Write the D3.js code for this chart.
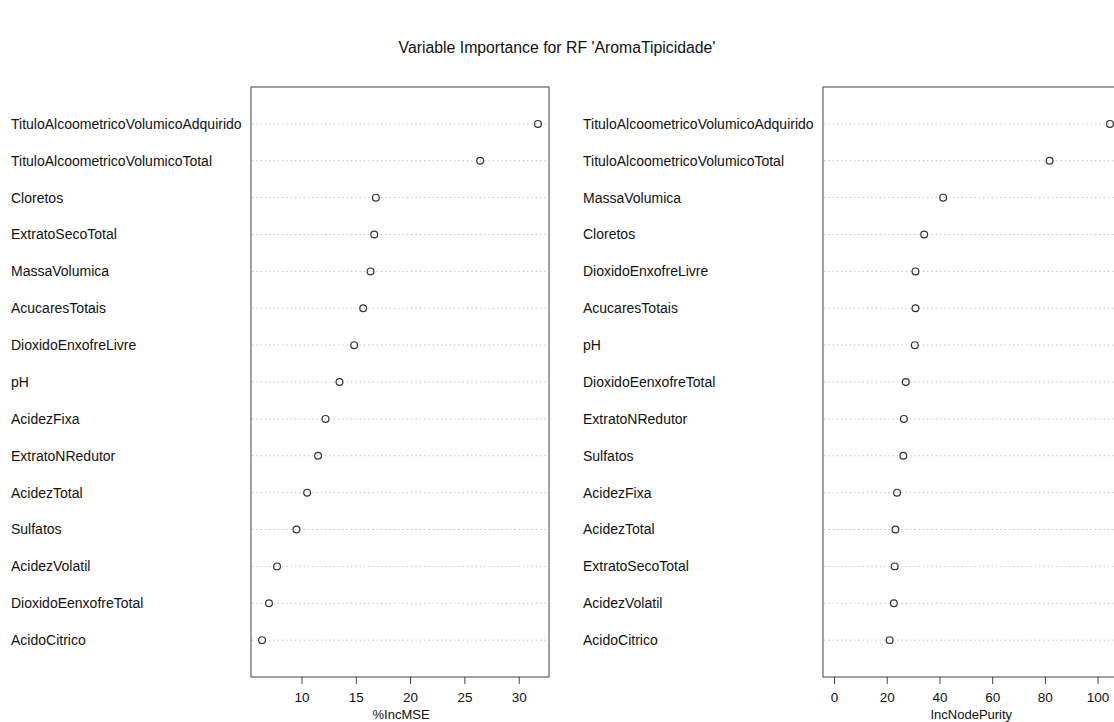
<!DOCTYPE html>
<html>
<head>
<meta charset="utf-8">
<script src="https://cdn.jsdelivr.net/npm/d3@7"></script>
<style>
  html, body { margin: 0; padding: 0; background: #fff; }
  svg { display: block; font-family: "Liberation Sans", Arial, Helvetica, sans-serif; }
</style>
</head>
<body>
<svg id="chart" width="1114" height="722"></svg>
<script>
// Importance measures, listed top row first (each panel sorted by its own measure)
const mseVars = ["TituloAlcoometricoVolumicoAdquirido", "TituloAlcoometricoVolumicoTotal", "Cloretos",
  "ExtratoSecoTotal", "MassaVolumica", "AcucaresTotais", "DioxidoEnxofreLivre", "pH", "AcidezFixa",
  "ExtratoNRedutor", "AcidezTotal", "Sulfatos", "AcidezVolatil", "DioxidoEenxofreTotal", "AcidoCitrico"];
const mseValues = [31.77, 26.45, 16.85, 16.70, 16.36, 15.68, 14.85, 13.50, 12.21, 11.53, 10.52, 9.54, 7.75, 7.01, 6.37];

const purityVars = ["TituloAlcoometricoVolumicoAdquirido", "TituloAlcoometricoVolumicoTotal", "MassaVolumica",
  "Cloretos", "DioxidoEnxofreLivre", "AcucaresTotais", "pH", "DioxidoEenxofreTotal", "ExtratoNRedutor",
  "Sulfatos", "AcidezFixa", "AcidezTotal", "ExtratoSecoTotal", "AcidezVolatil", "AcidoCitrico"];
const purityValues = [104.7, 81.8, 41.4, 34.2, 30.9, 30.9, 30.65, 27.2, 26.5, 26.3, 23.9, 23.3, 23.0, 22.7, 21.1];

const mseTicks = [10, 15, 20, 25, 30];
const purityTicks = [0, 20, 40, 60, 80, 100];

const titleText = "Variable Importance for RF 'AromaTipicidade'";

const svg = d3.select("#chart");

svg.append("text")
  .attr("x", 557).attr("y", 53)
  .attr("text-anchor", "middle")
  .attr("font-size", 15.8)
  .attr("fill", "#111")
  .text(titleText);

function dotPanel(cfg) {
  const n = cfg.vars.length;
  const top = 87, bottom = 677;
  const x = d3.scaleLinear().domain(cfg.xlim).range([cfg.left, cfg.right]);
  const y = d3.scaleLinear().domain([0, n + 1]).range([bottom, top]);
  const rows = cfg.vars.map((v, i) => ({ name: v, value: cfg.values[i], pos: n - i }));

  const g = svg.append("g");

  // dotted guide lines
  g.selectAll("line.guide").data(rows).join("line")
    .attr("class", "guide")
    .attr("x1", cfg.left + 1).attr("x2", cfg.right - 1)
    .attr("y1", d => y(d.pos)).attr("y2", d => y(d.pos))
    .attr("stroke", "#bdbdbd").attr("stroke-width", 1)
    .attr("stroke-dasharray", "1.3,3");

  // variable names
  g.selectAll("text.lab").data(rows).join("text")
    .attr("class", "lab")
    .attr("x", cfg.labelX).attr("y", d => y(d.pos))
    .attr("dy", "0.35em")
    .attr("font-size", 14)
    .attr("fill", "#111")
    .text(d => d.name);

  // points
  g.selectAll("circle").data(rows).join("circle")
    .attr("cx", d => x(d.value)).attr("cy", d => y(d.pos))
    .attr("r", 3.4)
    .attr("fill", "none").attr("stroke", "#333").attr("stroke-width", 1.2);

  // frame
  g.append("rect")
    .attr("x", cfg.left).attr("y", top)
    .attr("width", cfg.right - cfg.left).attr("height", bottom - top)
    .attr("fill", "none").attr("stroke", "#444").attr("stroke-width", 1);

  // bottom axis
  const axis = d3.axisBottom(x).tickValues(cfg.ticks).tickSize(7).tickPadding(8).tickFormat(d3.format("d"));
  const ag = g.append("g").attr("transform", `translate(0,${bottom})`).call(axis);
  ag.select(".domain").remove();
  ag.selectAll(".tick line").attr("stroke", "#444");
  ag.selectAll(".tick text").attr("font-size", 13.5).attr("fill", "#111")
    .attr("font-family", "Liberation Sans, Arial, sans-serif");

  g.append("text")
    .attr("x", (x(cfg.ticks[0]) + x(cfg.ticks[cfg.ticks.length - 1])) / 2 + cfg.titleShift)
    .attr("y", 719)
    .attr("text-anchor", "middle")
    .attr("font-size", 13)
    .attr("fill", "#111")
    .text(cfg.axisTitle);
}

// Left panel: %IncMSE, range padded by 4% on each side
(function () {
  const lo = d3.min(mseValues), hi = d3.max(mseValues), pad = (hi - lo) * 0.04;
  dotPanel({
    vars: mseVars, values: mseValues, ticks: mseTicks,
    xlim: [lo - pad, hi + pad], left: 251, right: 549, labelX: 11,
    axisTitle: "%IncMSE", titleShift: -9
  });
})();

// Right panel: IncNodePurity, range from zero padded by 4%
(function () {
  const hi = d3.max(purityValues), pad = hi * 0.04;
  dotPanel({
    vars: purityVars, values: purityValues, ticks: purityTicks,
    xlim: [-pad, hi + pad], left: 823, right: 1121, labelX: 583,
    axisTitle: "IncNodePurity", titleShift: 5.5
  });
})();
</script>
</body>
</html>
